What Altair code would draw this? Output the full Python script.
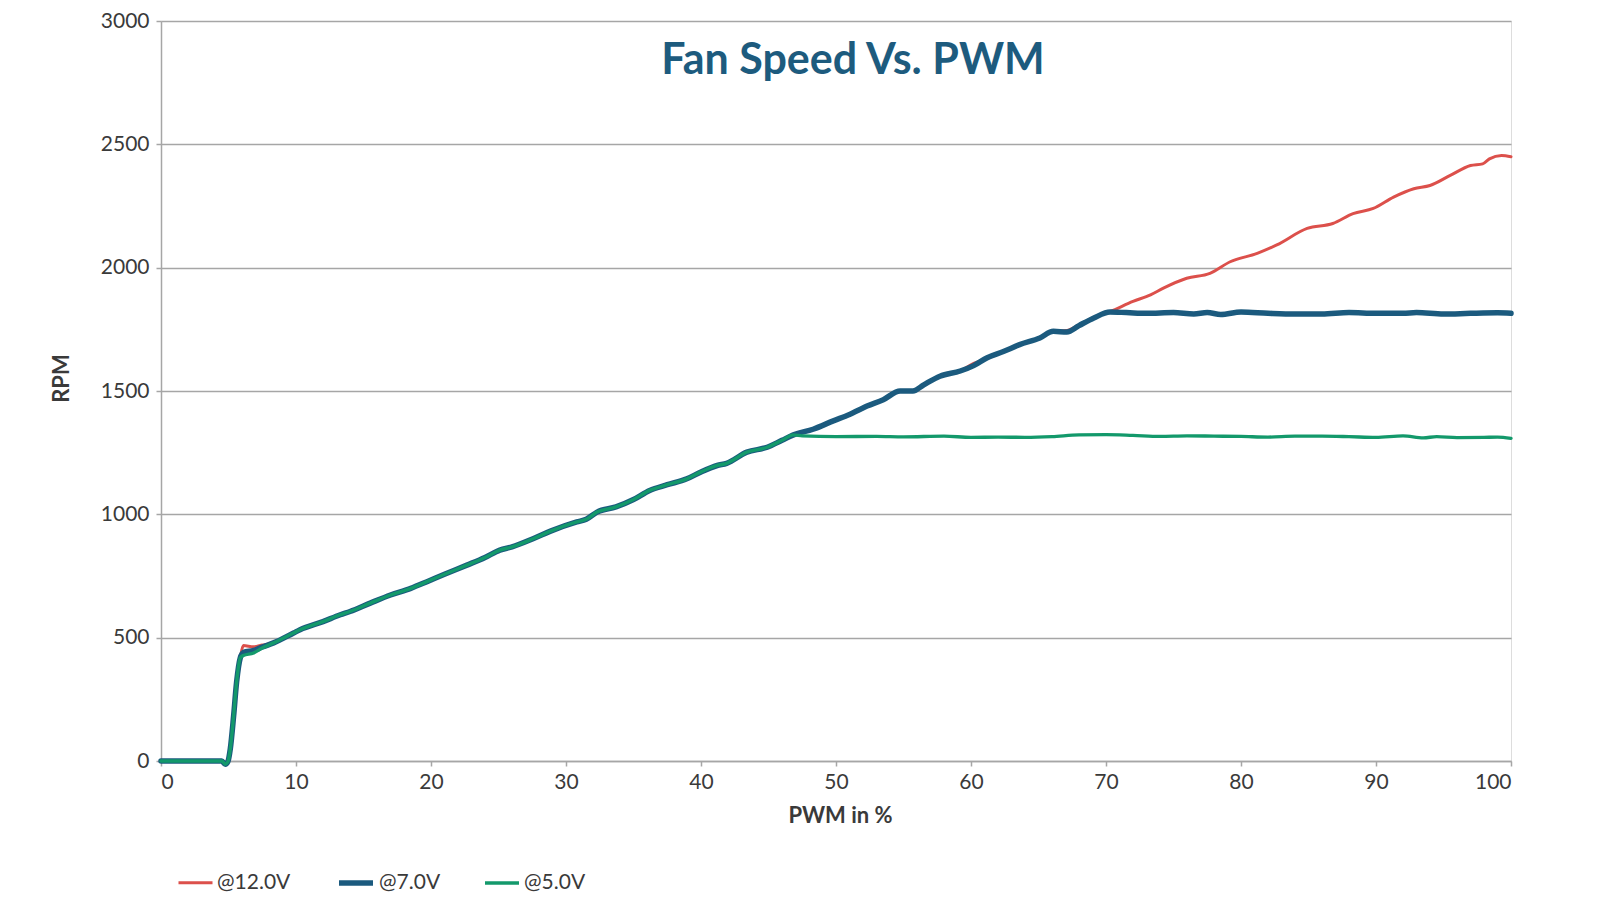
import altair as alt
import pandas as pd

# ---------------- data ----------------
series_names = ["@12.0V", "@7.0V", "@5.0V"]
series_colors = ["#DC504B", "#1B5A7E", "#13996B"]
series_widths = [3, 5.5, 3.4]

# common rising part (all three curves coincide here)
base_pwm = [0, 1, 2, 3, 4, 4.5, 4.76, 4.95, 5.13, 5.38, 5.6, 5.87]
base_rpm = [0, 0, 0, 0, 0, 0, -13, -3, 48, 183, 320, 418]

start_pwm = [6.1, 6.86, 7.5]
start_rpm_12 = [468, 463, 470]
start_rpm_7 = [440, 448, 462]
start_rpm_5 = [428, 438, 458]

mid_pwm = [8.34, 9.82, 10.3, 12, 13.28, 14, 15.5, 17, 18.5, 19.7, 21, 22.66,
           24, 25.1, 26, 27.6, 29, 30.8, 31.5, 32.3, 33.7, 35, 36.2, 37.5,
           38.95, 40, 41.2, 41.9, 43.4, 44.9, 46, 46.85]
mid_rpm = [479, 519, 532, 565, 593, 606, 640, 673, 700, 727, 757, 794,
           825, 855, 868, 902, 935, 969, 980, 1009, 1030, 1060, 1097, 1120,
           1144, 1172, 1198, 1207, 1252, 1272, 1300, 1322]

upper_pwm = [48.3, 49.8, 51, 52.3, 53.5, 54.75, 55.7, 56.5, 57.7, 59.2, 60.2,
             61.2, 62.4, 63.6, 65.1, 66.1, 67.1, 68, 69.1, 70.3]
upper_rpm_7 = [1345, 1379, 1405, 1439, 1465, 1500, 1500, 1525, 1560, 1581, 1603,
               1635, 1660, 1688, 1715, 1742, 1739, 1765, 1796, 1820]
upper_rpm_12 = [1345, 1379, 1405, 1439, 1465, 1500, 1502, 1525, 1560, 1581, 1612,
                1632, 1660, 1688, 1715, 1742, 1745, 1768, 1798, 1822]

tail12_pwm = [72, 73.3, 74.25, 75.98, 77.7, 79.2, 81.2, 82.65, 84.9, 86.8, 88.3,
              89.8, 91.3, 92.8, 94, 95.5, 97, 97.9, 98.4, 99.3, 100]
tail12_rpm = [1863, 1890, 1917, 1957, 1977, 2024, 2058, 2092, 2159, 2179, 2219,
              2240, 2286, 2320, 2333, 2374, 2414, 2421, 2441, 2455, 2450]

tail7_pwm = [71.5, 73, 75, 76.5, 77.5, 78.5, 80, 82, 84, 86, 88, 90, 92, 93,
             95, 97, 99, 100]
tail7_rpm = [1818, 1815, 1818, 1812, 1818, 1810, 1820, 1815, 1812, 1812, 1818,
             1815, 1815, 1818, 1812, 1815, 1817, 1815]

tail5_pwm = [47.5, 50, 53, 55, 58, 60, 62, 64, 66, 68, 70, 72, 74, 76, 78, 80,
             82, 84, 86, 88, 90, 92, 93.5, 94.5, 96, 98, 99, 100]
tail5_rpm = [1318, 1315, 1316, 1314, 1317, 1312, 1313, 1312, 1315, 1322, 1323,
             1320, 1316, 1318, 1317, 1316, 1313, 1317, 1317, 1315, 1312, 1318,
             1310, 1315, 1311, 1312, 1313, 1308]

x_ticks = [0, 10, 20, 30, 40, 50, 60, 70, 80, 90, 100]
y_ticks = [0, 500, 1000, 1500, 2000, 2500, 3000]
chart_title = "Fan Speed Vs. PWM"
x_title = "PWM in %"
y_title = "RPM"

# ---------------- assemble table ----------------
rows = []
def add(name, xs, ys):
    for a, b in zip(xs, ys):
        rows.append({"series": name, "pwm": a, "rpm": b})

add("@12.0V", base_pwm + start_pwm + mid_pwm + upper_pwm + tail12_pwm,
    base_rpm + start_rpm_12 + mid_rpm + upper_rpm_12 + tail12_rpm)
add("@7.0V", base_pwm + start_pwm + mid_pwm + upper_pwm + tail7_pwm,
    base_rpm + start_rpm_7 + mid_rpm + upper_rpm_7 + tail7_rpm)
add("@5.0V", base_pwm + start_pwm + mid_pwm + tail5_pwm,
    base_rpm + start_rpm_5 + mid_rpm + tail5_rpm)
df = pd.DataFrame(rows)

FONT = "Lato"
GRID = "#A6A6A6"
TXT = "#3A3A3A"

x_enc = alt.X("pwm:Q",
              scale=alt.Scale(domain=[0, 100], nice=False, zero=False),
              axis=alt.Axis(values=x_ticks, format="d", title=x_title,
                            grid=False, domain=True, domainColor=GRID,
                            domainWidth=1.5, ticks=True, tickColor=GRID,
                            tickSize=5, tickWidth=1.5, labelFontSize=21,
                            labelFont=FONT, labelColor=TXT, labelPadding=5,
                            titleFont=FONT, titleFontSize=22,
                            titleFontWeight="bold", titleColor=TXT,
                            titleX=679, titleY=61, titleBaseline="alphabetic",
                            titleAlign="center"))
y_enc = alt.Y("rpm:Q",
              scale=alt.Scale(domain=[0, 3000], nice=False, zero=False),
              axis=alt.Axis(values=y_ticks, format="d", title=y_title,
                            grid=True, gridColor=GRID, gridWidth=1.5,
                            domain=True, domainColor=GRID, domainWidth=1.5,
                            ticks=True, tickColor=GRID, tickSize=5,
                            tickWidth=1.5, labelFontSize=21, labelFont=FONT,
                            labelColor=TXT, labelPadding=7,
                            titleFont=FONT, titleFontSize=22,
                            titleFontWeight="bold", titleColor=TXT,
                            titleAngle=-90, titleX=-100, titleY=357,
                            titleBaseline="middle", titleAlign="center"))

legend_cfg = dict(title=None, orient="none", legendX=16, legendY=842,
                  direction="horizontal", symbolType="stroke",
                  symbolSize=1156, labelFont=FONT, labelFontSize=21,
                  labelColor=TXT, labelOffset=3, columnPadding=37, padding=0)

color_enc = alt.Color("series:N",
                      scale=alt.Scale(domain=series_names, range=series_colors),
                      legend=alt.Legend(**legend_cfg))
width_enc = alt.StrokeWidth("series:N",
                            scale=alt.Scale(type="ordinal", domain=series_names,
                                            range=series_widths),
                            legend=alt.Legend(**legend_cfg))

layers = []
for name in series_names:
    layers.append(
        alt.Chart(df).transform_filter(alt.datum.series == name)
        .mark_line(interpolate="monotone", strokeCap="round", strokeJoin="round")
        .encode(x=x_enc, y=y_enc, color=color_enc, strokeWidth=width_enc,
                order=alt.Order("pwm:Q"))
    )

title_layer = alt.Chart(pd.DataFrame({"t": [chart_title]})).mark_text(
    font=FONT, fontSize=43, fontWeight="bold", color="#1D5B7E",
    align="center", baseline="alphabetic"
).encode(text="t:N", x=alt.value(692), y=alt.value(53))

chart = alt.layer(*layers, title_layer).properties(
    width=1350, height=740,
    autosize=alt.AutoSizeParams(type="none"),
    padding={"left": 153, "top": 13, "right": 60, "bottom": 131},
).configure_view(stroke=None).configure(background="white")

chart.save("out.html", embed_options={"renderer": "svg", "actions": False})
